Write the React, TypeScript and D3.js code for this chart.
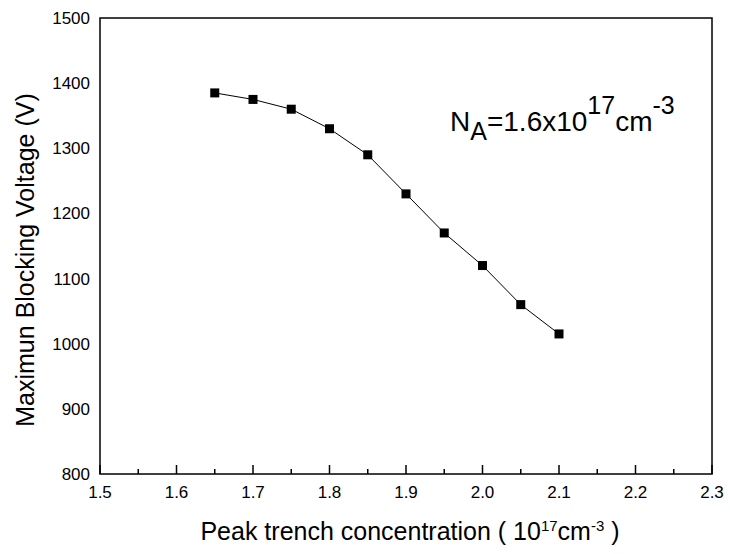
import React from "react";
import * as d3 from "d3";

const xValues = [1.65, 1.7, 1.75, 1.8, 1.85, 1.9, 1.95, 2.0, 2.05, 2.1];
const yValues = [1385, 1375, 1360, 1330, 1290, 1230, 1170, 1120, 1060, 1015];
const xTicks = [1.5, 1.6, 1.7, 1.8, 1.9, 2.0, 2.1, 2.2, 2.3];
const xMinorTicks = [1.55, 1.65, 1.75, 1.85, 1.95, 2.05, 2.15, 2.25];
const yTicks = [800, 900, 1000, 1100, 1200, 1300, 1400, 1500];

export default function App() {
  const W = 730, H = 554;
  const left = 100, right = 712, top = 18, bottom = 474;
  const x = d3.scaleLinear().domain([1.5, 2.3]).range([left, right]);
  const y = d3.scaleLinear().domain([800, 1500]).range([bottom, top]);
  const line = d3.line<number>().x((_, i) => x(xValues[i])).y((d) => y(d));
  const font = "Liberation Sans, Arial, sans-serif";
  return (
    <svg width={W} height={H} style={{ position: "absolute", left: 0, top: 0 }} fontFamily={font}>
      <rect x={left} y={top} width={right - left} height={bottom - top} fill="none" stroke="#000" strokeWidth={1.5} />
      {xTicks.map((t) => (
        <g key={t}>
          <line x1={x(t)} x2={x(t)} y1={bottom} y2={bottom - 9} stroke="#000" strokeWidth={1.5} />
          <text x={x(t)} y={498} textAnchor="middle" fontSize={17}>{t.toFixed(1)}</text>
        </g>
      ))}
      {xMinorTicks.map((t) => (
        <line key={t} x1={x(t)} x2={x(t)} y1={bottom} y2={bottom - 5} stroke="#000" strokeWidth={1.5} />
      ))}
      {yTicks.map((t) => (
        <text key={t} x={90} y={y(t) + 6} textAnchor="end" fontSize={17}>{t}</text>
      ))}
      <path d={line(yValues) || ""} fill="none" stroke="#000" strokeWidth={1} />
      {yValues.map((v, i) => (
        <rect key={i} x={x(xValues[i]) - 4.5} y={y(v) - 4.5} width={9} height={9} fill="#000" />
      ))}
      <text x={450} y={131} fontSize={28}>
        N<tspan fontSize={25} dy={9}>A</tspan><tspan dy={-9}>=1.6x10</tspan><tspan fontSize={25} dy={-17}>17</tspan><tspan dy={17}>cm</tspan><tspan fontSize={25} dy={-17}>-3</tspan>
      </text>
      <text transform={`translate(34,260) rotate(-90)`} textAnchor="middle" fontSize={25}>Maximun Blocking Voltage (V)</text>
      <text x={410} y={540} textAnchor="middle" fontSize={25}>
        Peak trench concentration ( 10<tspan fontSize={15} dy={-9}>17</tspan><tspan dy={9}>cm</tspan><tspan fontSize={15} dy={-9}>-3</tspan><tspan dy={9}> )</tspan>
      </text>
    </svg>
  );
}
